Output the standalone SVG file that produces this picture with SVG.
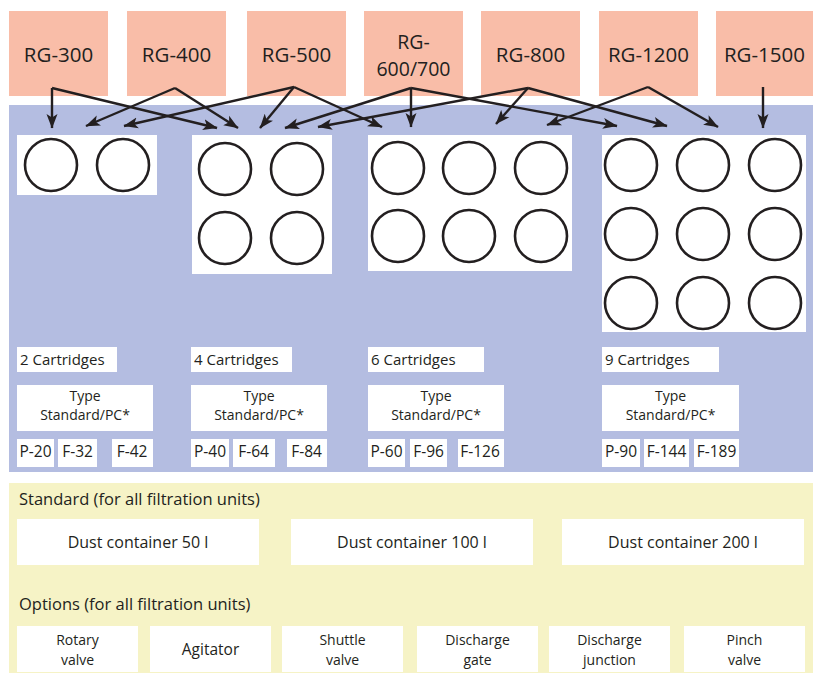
<svg xmlns="http://www.w3.org/2000/svg" width="813" height="673" viewBox="0 0 813 673">
<defs>
<marker id="ah" markerUnits="userSpaceOnUse" markerWidth="15" markerHeight="12" refX="14" refY="6" orient="auto" viewBox="0 0 15 12">
<path d="M0,0.5 L14.5,6 L0,11.5 L3.5,6 z" fill="#231f20"/>
</marker>
</defs>
<style>
text{font-family:"Open Sans","Noto Sans","Liberation Sans",sans-serif;fill:#231f20;}
.rg{fill:#f9bda8;}
.rgt{font-size:20.5px;text-anchor:middle;}
.rg2{font-size:19.5px;text-anchor:middle;}
.w{fill:#ffffff;}
.t{font-size:15px;}
.t2{font-size:14px;}
.pf{font-size:15.5px;}
.h{font-size:16.5px;}
.d{font-size:16px;}
.o{font-size:15.5px;}
.o2{font-size:14px;}
.c{text-anchor:middle;}
.cart{fill:none;stroke:#231f20;stroke-width:2.6;}
.conn line{stroke:#231f20;stroke-width:2.4;marker-end:url(#ah);}
</style>
<rect id="panel-blue" x="9" y="105" width="804" height="367" fill="#b4bde1"/>
<rect id="panel-yellow" x="9" y="483" width="804" height="190" fill="#f6f3c6"/>

<g id="rg-300"><rect class="rg" x="9" y="11" width="99" height="85"/><text class="rgt" x="58.5" y="62">RG-300</text></g>
<g id="rg-400"><rect class="rg" x="127" y="11" width="99" height="85"/><text class="rgt" x="176.5" y="62">RG-400</text></g>
<g id="rg-500"><rect class="rg" x="247" y="11" width="99" height="85"/><text class="rgt" x="296.5" y="62">RG-500</text></g>
<g id="rg-600-700"><rect class="rg" x="364" y="11" width="99" height="85"/><text class="rg2" x="413.5" y="49">RG-</text><text class="rg2" x="413.5" y="76">600/700</text></g>
<g id="rg-800"><rect class="rg" x="481" y="11" width="99" height="85"/><text class="rgt" x="530.5" y="62">RG-800</text></g>
<g id="rg-1200"><rect class="rg" x="599" y="11" width="99" height="85"/><text class="rgt" x="648.5" y="62">RG-1200</text></g>
<g id="rg-1500"><rect class="rg" x="716" y="11" width="97" height="85"/><text class="rgt" x="764.5" y="62">RG-1500</text></g>

<g id="cart-2">
<rect class="w" x="17" y="135" width="140" height="60"/>
<circle class="cart" cx="51" cy="165" r="26"/><circle class="cart" cx="123" cy="165" r="26"/>
</g>
<g id="cart-4">
<rect class="w" x="192" y="135" width="140" height="139"/>
<circle class="cart" cx="225" cy="169" r="26"/><circle class="cart" cx="297" cy="169" r="26"/>
<circle class="cart" cx="225" cy="238" r="26"/><circle class="cart" cx="297" cy="238" r="26"/>
</g>
<g id="cart-6">
<rect class="w" x="368" y="135" width="204" height="136"/>
<circle class="cart" cx="398" cy="168" r="26"/><circle class="cart" cx="469" cy="168" r="26"/><circle class="cart" cx="541" cy="168" r="26"/>
<circle class="cart" cx="398" cy="236" r="26"/><circle class="cart" cx="469" cy="236" r="26"/><circle class="cart" cx="541" cy="236" r="26"/>
</g>
<g id="cart-9">
<rect class="w" x="602" y="135" width="204" height="197"/>
<circle class="cart" cx="631" cy="165" r="26"/><circle class="cart" cx="703" cy="165" r="26"/><circle class="cart" cx="775" cy="165" r="26"/>
<circle class="cart" cx="631" cy="234" r="26"/><circle class="cart" cx="703" cy="234" r="26"/><circle class="cart" cx="775" cy="234" r="26"/>
<circle class="cart" cx="631" cy="303" r="26"/><circle class="cart" cx="703" cy="303" r="26"/><circle class="cart" cx="775" cy="303" r="26"/>
</g>

<g id="label-2">
<rect class="w" x="17" y="347" width="100" height="25"/><text class="t" x="20" y="365">2 Cartridges</text>
<rect class="w" x="17" y="385" width="136" height="46"/><text class="t2 c" x="85" y="401">Type</text><text class="t2 c" x="85" y="420">Standard/PC*</text>
<rect class="w" x="17" y="439" width="37" height="28"/><text class="pf c" x="35.5" y="457">P-20</text>
<rect class="w" x="58" y="439" width="39" height="28"/><text class="pf c" x="77.5" y="457">F-32</text>
<rect class="w" x="112" y="439" width="41" height="28"/><text class="pf c" x="132" y="457">F-42</text>
</g>
<g id="label-4">
<rect class="w" x="191" y="347" width="101" height="25"/><text class="t" x="194" y="365">4 Cartridges</text>
<rect class="w" x="191" y="385" width="136" height="46"/><text class="t2 c" x="259" y="401">Type</text><text class="t2 c" x="259" y="420">Standard/PC*</text>
<rect class="w" x="191" y="439" width="38" height="28"/><text class="pf c" x="210" y="457">P-40</text>
<rect class="w" x="233" y="439" width="42" height="28"/><text class="pf c" x="253.5" y="457">F-64</text>
<rect class="w" x="287" y="439" width="40" height="28"/><text class="pf c" x="306.5" y="457">F-84</text>
</g>
<g id="label-6">
<rect class="w" x="368" y="347" width="116" height="25"/><text class="t" x="371" y="365">6 Cartridges</text>
<rect class="w" x="368" y="385" width="136" height="46"/><text class="t2 c" x="436" y="401">Type</text><text class="t2 c" x="436" y="420">Standard/PC*</text>
<rect class="w" x="368" y="439" width="37" height="28"/><text class="pf c" x="386.5" y="457">P-60</text>
<rect class="w" x="410" y="439" width="37" height="28"/><text class="pf c" x="428.5" y="457">F-96</text>
<rect class="w" x="458" y="439" width="46" height="28"/><text class="pf c" x="480" y="457">F-126</text>
</g>
<g id="label-9">
<rect class="w" x="602" y="347" width="117" height="25"/><text class="t" x="605" y="365">9 Cartridges</text>
<rect class="w" x="602" y="385" width="137" height="46"/><text class="t2 c" x="670.5" y="401">Type</text><text class="t2 c" x="670.5" y="420">Standard/PC*</text>
<rect class="w" x="602" y="439" width="38" height="28"/><text class="pf c" x="621" y="457">P-90</text>
<rect class="w" x="644" y="439" width="45" height="28"/><text class="pf c" x="666.5" y="457">F-144</text>
<rect class="w" x="694" y="439" width="45" height="28"/><text class="pf c" x="716.5" y="457">F-189</text>
</g>

<g id="standard">
<text class="h" x="19" y="505">Standard (for all filtration units)</text>
<rect class="w" x="17" y="519" width="242" height="46"/><text class="d c" x="138" y="548">Dust container 50 l</text>
<rect class="w" x="291" y="519" width="242" height="46"/><text class="d c" x="412" y="548">Dust container 100 l</text>
<rect class="w" x="562" y="519" width="242" height="46"/><text class="d c" x="683" y="548">Dust container 200 l</text>
</g>
<g id="options">
<text class="h" x="19" y="610">Options (for all filtration units)</text>
<rect class="w" x="17" y="626" width="121" height="46"/><text class="o2 c" x="77.5" y="645">Rotary</text><text class="o2 c" x="77.5" y="664.5">valve</text>
<rect class="w" x="150" y="626" width="121" height="46"/><text class="o c" x="210.5" y="655">Agitator</text>
<rect class="w" x="282" y="626" width="121" height="46"/><text class="o2 c" x="342.5" y="645">Shuttle</text><text class="o2 c" x="342.5" y="664.5">valve</text>
<rect class="w" x="417" y="626" width="121" height="46"/><text class="o2 c" x="477.5" y="645">Discharge</text><text class="o2 c" x="477.5" y="664.5">gate</text>
<rect class="w" x="549" y="626" width="121" height="46"/><text class="o2 c" x="609.5" y="645">Discharge</text><text class="o2 c" x="609.5" y="664.5">junction</text>
<rect class="w" x="684" y="626" width="121" height="46"/><text class="o2 c" x="744.5" y="645">Pinch</text><text class="o2 c" x="744.5" y="664.5">valve</text>
</g>

<g id="connectors" class="conn">
<line x1="52" y1="88" x2="52" y2="128"/>
<line x1="52" y1="88" x2="217" y2="128"/>
<line x1="175" y1="88" x2="86" y2="126"/>
<line x1="175" y1="88" x2="238" y2="128"/>
<line x1="294" y1="87" x2="124" y2="126"/>
<line x1="294" y1="87" x2="260" y2="128"/>
<line x1="294" y1="87" x2="382" y2="127"/>
<line x1="411" y1="88" x2="285" y2="128"/>
<line x1="411" y1="88" x2="411" y2="127"/>
<line x1="411" y1="88" x2="617" y2="126"/>
<line x1="528" y1="88" x2="318" y2="127"/>
<line x1="528" y1="88" x2="496" y2="124"/>
<line x1="528" y1="88" x2="667" y2="126"/>
<line x1="648" y1="87" x2="547" y2="125"/>
<line x1="648" y1="87" x2="718" y2="127"/>
<line x1="763" y1="87" x2="763" y2="128"/>
</g>
</svg>
